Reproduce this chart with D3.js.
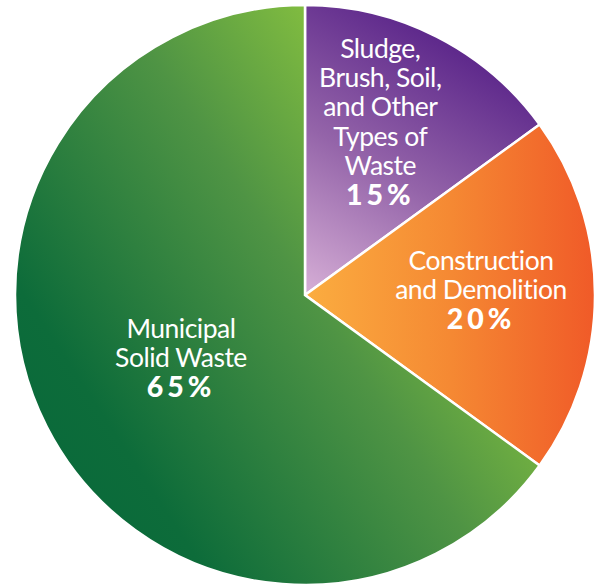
<!DOCTYPE html>
<html>
<head>
<meta charset="utf-8">
<script src="https://cdn.jsdelivr.net/npm/d3@7"></script>
<style>
  html, body { margin: 0; padding: 0; background: #fff; }
  svg { display: block; }
</style>
</head>
<body>
<svg id="chart" width="597" height="585"></svg>
<script>
// ---- data ----
const categories = ["Sludge, Brush, Soil, and Other Types of Waste", "Construction and Demolition", "Municipal Solid Waste"];
const values = [15, 20, 65];
const labelLines = [
  ["Sludge,", "Brush, Soil,", "and Other", "Types of", "Waste"],
  ["Construction", "and Demolition"],
  ["Municipal", "Solid Waste"]
];
const percentLabels = ["15%", "20%", "65%"];

// ---- layout / style ----
const cx = 305, cy = 295, R = 290;
const labelRadiusFrac = [0.64, 0.6, 0.48];
const labelNudge = [[-9, -7.5], [2, -4.5], [0, 0]];
const lineH = 29.4;
const gradients = [
  { id: "gPurple", stops: [[0, "#d3abd4"], [0.5, "#9464a9"], [1, "#5f2a8c"]], from: [0.02, -0.02], to: [0.5, -0.85] },
  { id: "gOrange", stops: [[0, "#fbad40"], [0.5, "#f58933"], [1, "#f05a28"]], from: [0, 0], to: [1, 0] },
  { id: "gGreen",  stops: [[0, "#0a6a3a"], [0.12, "#0d6c3a"], [0.55, "#4f9444"], [0.9, "#8dc63f"], [1, "#8dc63f"]], from: [-0.85, 0.6], to: [0.75, -0.45] }
];

const svg = d3.select("#chart");
const defs = svg.append("defs");
gradients.forEach(g => {
  const lg = defs.append("linearGradient").attr("id", g.id)
    .attr("gradientUnits", "userSpaceOnUse")
    .attr("x1", g.from[0] * R).attr("y1", g.from[1] * R)
    .attr("x2", g.to[0] * R).attr("y2", g.to[1] * R);
  g.stops.forEach(([o, c]) => lg.append("stop").attr("offset", o).attr("stop-color", c));
});

const data = categories.map((c, i) => ({ cat: c, value: values[i], i }));
const pie = d3.pie().value(d => d.value).sort(null).startAngle(0).endAngle(2 * Math.PI);
const arcs = pie(data);
const arc = d3.arc().innerRadius(0).outerRadius(R);

const g = svg.append("g").attr("transform", `translate(${cx},${cy})`);

g.selectAll("path.slice").data(arcs).enter().append("path")
  .attr("class", "slice")
  .attr("d", arc)
  .attr("fill", d => `url(#${gradients[d.index].id})`)
  .attr("stroke", "#fff")
  .attr("stroke-width", 2.5)
  .attr("stroke-linejoin", "miter");

// labels: one text element per slice, one tspan per line
arcs.forEach((a, k) => {
  const lr = R * labelRadiusFrac[k];
  const la = d3.arc().innerRadius(lr).outerRadius(lr);
  const [x0, y0] = la.centroid(a);
  const x = x0 + labelNudge[k][0];
  const y = y0 + labelNudge[k][1];
  const lines = labelLines[k];
  const n = lines.length + 1;
  const firstBase = y - ((n - 1) * lineH + 18) / 2 + 18;
  const t = g.append("text")
    .attr("transform", `translate(${x},${firstBase})`)
    .attr("text-anchor", "middle")
    .attr("fill", "#fff")
    .style("font-family", "Lato, 'Open Sans', sans-serif");
  lines.forEach((ln, j) => {
    t.append("tspan")
      .attr("x", 0).attr("y", j * lineH)
      .style("font-weight", 400)
      .style("font-size", "26.5px")
      .style("letter-spacing", "-0.5px")
      .text(ln);
  });
  t.append("tspan")
    .attr("x", 0).attr("y", lines.length * lineH)
    .style("font-weight", 900)
    .style("font-size", "28.5px")
    .style("letter-spacing", "4px")
    .text(percentLabels[k]);
});
</script>
</body>
</html>
